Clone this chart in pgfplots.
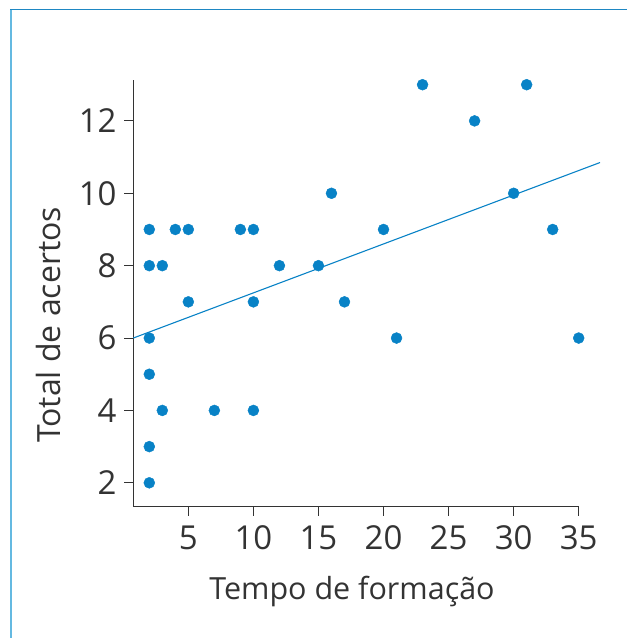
\documentclass[border=0pt]{standalone}
\usepackage{fontspec}
\setmainfont{Open Sans}
\usepackage{pgfplots}
\pgfplotsset{compat=1.18}
\definecolor{ptblue}{RGB}{8,130,198}
\definecolor{txtgray}{RGB}{51,51,51}
\definecolor{frameleft}{RGB}{100,185,225}
\definecolor{frametop}{RGB}{30,135,195}
\begin{document}
\begin{tikzpicture}[x=1pt,y=1pt]
\useasboundingbox (-133.3,-131.3) rectangle (493.7,506.7);
\draw[draw=frameleft,line width=2pt] (-121.8,-131.3) -- (-121.8,497.4);
\draw[draw=frametop,line width=1.5pt] (-122.8,497.4) -- (493.7,497.4);
\begin{axis}[
  at={(0,0)}, anchor=south west,
  scale only axis, width=445.4pt, height=426.7pt,
  xmin=0.77, xmax=35, ymin=1.34, ymax=13.13,
  axis x line*=bottom, axis y line*=left,
  axis line style={txtgray, line width=0.9pt},
  xtick={5,10,...,35}, ytick={2,4,...,12},
  tick align=outside, major tick length=9pt,
  tick style={draw=txtgray, line width=0.9pt},
  every tick label/.style={font=\fontsize{33}{40}\selectfont, text=txtgray, inner sep=0pt},
  /pgf/number format/assume math mode=true,
  xticklabel style={yshift=-10pt},
  yticklabel style={xshift=-7.5pt},
  xlabel={Tempo de formação}, ylabel={Total de acertos},
  every axis x label/.style={at={(axis description cs:0.491,0)}, anchor=base, yshift=-93pt, font=\fontsize{30.5}{36}\selectfont, text=txtgray},
  every axis y label/.style={at={(axis description cs:-0.1915,0.426)}, anchor=center, rotate=90, font=\fontsize{32}{38}\selectfont, text=txtgray},
  clip=false,
]
\draw[white, line width=3pt] (axis cs:35.04,1.34) -- (axis cs:37.5,1.34);
\draw[txtgray, line width=0.9pt] (axis cs:0.77,13.13) -- (axis cs:0.77,1.34) -- (axis cs:35,1.34);
\addplot[ptblue, line width=1.1pt] coordinates {(0.77,6.0) (36.64,10.85)};
\addplot[only marks, mark=*, mark size=5.5pt, mark options={draw=ptblue, fill=ptblue}] coordinates {
(2,9) (2,8) (3,8) (4,9) (5,9) (5,7) (9,9) (10,9) (10,7) (12,8) (15,8) (16,10) (17,7)
(2,6) (2,5) (3,4) (7,4) (10,4) (2,3) (2,2)
(23,13) (31,13) (27,12) (30,10) (20,9) (33,9) (21,6) (35,6)
};
\end{axis}
\end{tikzpicture}
\end{document}
